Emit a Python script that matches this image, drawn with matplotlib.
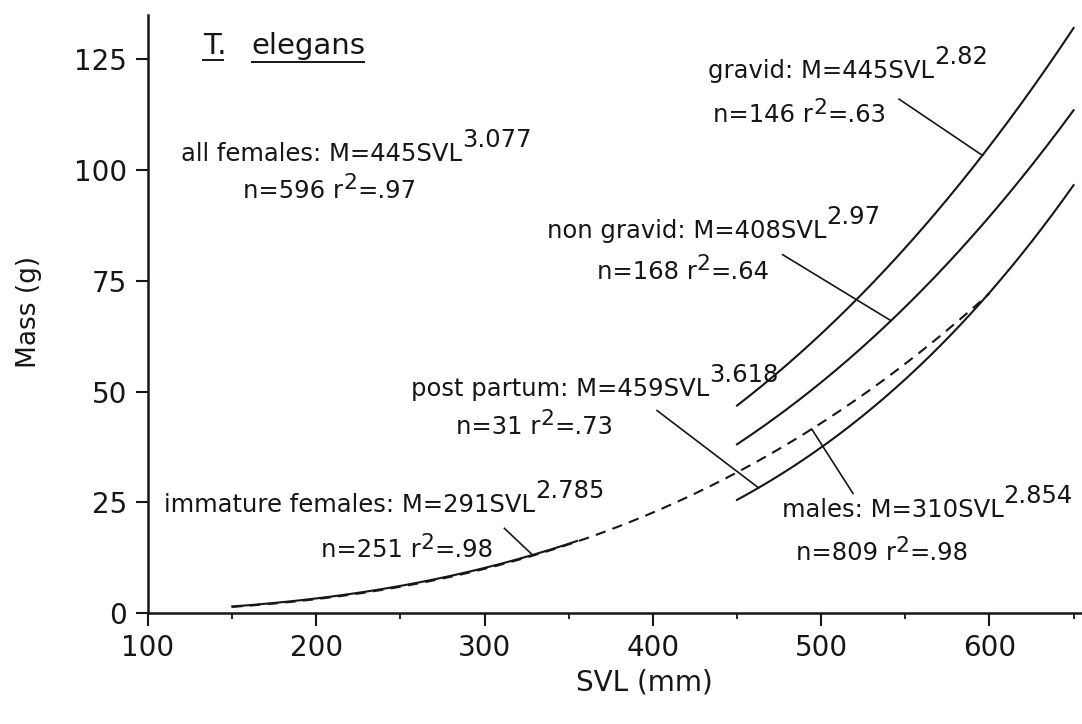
import matplotlib
matplotlib.use('Agg')
import matplotlib.pyplot as plt
import numpy as np

plt.rcParams['font.family'] = ['DejaVu Sans']

# Allometric fits M = a * SVL^b (SVL in m, M in g)
groups = ['gravid', 'non gravid', 'post partum', 'immature females', 'males', 'all females']
coef = [445, 408, 459, 291, 310, 445]
expo = ['2.82', '2.97', '3.618', '2.785', '2.854', '3.077']
n_obs = [146, 168, 31, 251, 809, 596]
r_sq = ['.63', '.64', '.73', '.98', '.98', '.97']
svl_from = [450, 450, 450, 150, 150, None]
svl_to = [650, 650, 650, 355, 600, None]
styles = ['-', '-', '-', '-', '--', None]

# label placement: (x, y) of equation line, (x, y) of n / r2 line
eq_pos = [(432.9, 120.7), (336.9, 84.7), (256.3, 48.9), (109.5, 22.7), (476.5, 21.6), (119.7, 102.0)]
stat_pos = [(435.9, 110.8), (366.7, 75.5), (283.2, 40.5), (202.6, 12.6), (484.8, 11.9), (156.7, 93.7)]
# leader lines: text-side point, SVL where the line meets the curve
lead_from = [(546.3, 116.0), (477.1, 80.9), (402.5, 45.7), (311.8, 19.1), (518.9, 27.0), None]
lead_svl = [595.8, 541.5, 462.8, 328.5, 494.4, None]

INK = '#161616'
FS = 17.5


def mass(i, svl):
    return coef[i] * (np.asarray(svl) / 1000.0) ** float(expo[i])


def chain_text(ax, x, y, pieces, size=FS):
    """Write text pieces one after another; pieces with a lift value are raised."""
    base = ax.text(x, y, pieces[0][0], fontsize=size, color=INK, va='baseline', ha='left')
    prev = base
    for s, lift, scale in pieces[1:]:
        if lift:
            prev = ax.annotate(s, xy=(1, lift), xycoords=(prev, base), fontsize=size * scale,
                               color=INK, va='baseline', ha='left')
        else:
            prev = ax.annotate(s, xy=(1, 0), xycoords=(prev, base), fontsize=size,
                               color=INK, va='bottom', ha='left')
    return base


fig = plt.figure(figsize=(10.82, 7.24), dpi=100)
ax = fig.add_axes([0.1368, 0.1533, 0.8632, 0.826])

for i, g in enumerate(groups):
    if svl_from[i] is not None:
        xs = np.linspace(svl_from[i], svl_to[i], 300)
        ln, = ax.plot(xs, mass(i, xs), color=INK, lw=1.5, ls=styles[i])
        if styles[i] == '--':
            ln.set_dashes((5, 3.5))
    chain_text(ax, *eq_pos[i], [(f'{g}: M={coef[i]}SVL', 0), (expo[i], 0.80, 1.0)])
    chain_text(ax, *stat_pos[i], [(f'n={n_obs[i]} r', 0),
                                  ('2', 0.57, 0.9), (f'={r_sq[i]}', 0, 1.0)])
    if lead_from[i] is not None:
        x0, y0 = lead_from[i]
        x1 = lead_svl[i]
        ax.plot([x0, x1], [y0, float(mass(i, x1))], color=INK, lw=1.2)

# species name with underlined genus and epithet
t1 = ax.text(132.5, 126.3, 'T.', fontsize=21, color=INK, va='baseline')
t2 = ax.text(161.5, 126.3, 'elegans', fontsize=21, color=INK, va='baseline')
fig.canvas.draw()
inv = ax.transData.inverted()
for t, drop in ((t1, 0), (t2, 2)):
    bb = t.get_window_extent()
    (xa, ya), (xb, _) = inv.transform([(bb.x0, bb.y0 - drop), (bb.x1, bb.y0)])
    if t is t1:
        xb = xa + 12
    ax.plot([xa, xb], [ya, ya], color=INK, lw=1.4)

ax.set_xlim(100, 655)
ax.set_ylim(0, 135)
ax.set_xticks(np.arange(100, 700, 100))
ax.set_xticks(np.arange(150, 700, 100), minor=True)
ax.set_yticks(np.arange(0, 150, 25))

for s in ('top', 'right'):
    ax.spines[s].set_visible(False)
for s in ('left', 'bottom'):
    ax.spines[s].set_linewidth(1.8)
    ax.spines[s].set_color(INK)

ax.tick_params(axis='both', which='major', direction='out', length=9, width=1.5,
               labelsize=20, colors=INK, pad=6)
ax.tick_params(axis='x', which='minor', direction='out', length=4, width=1.3, colors=INK)

ax.set_xlabel('SVL (mm)', fontsize=20, color=INK)
ax.xaxis.set_label_coords(0.531, -0.093)
ax.set_ylabel('Mass (g)', fontsize=19, color=INK)
ax.yaxis.set_label_coords(-0.113, 0.503)

fig.savefig('out.png', dpi=100, facecolor='white')
